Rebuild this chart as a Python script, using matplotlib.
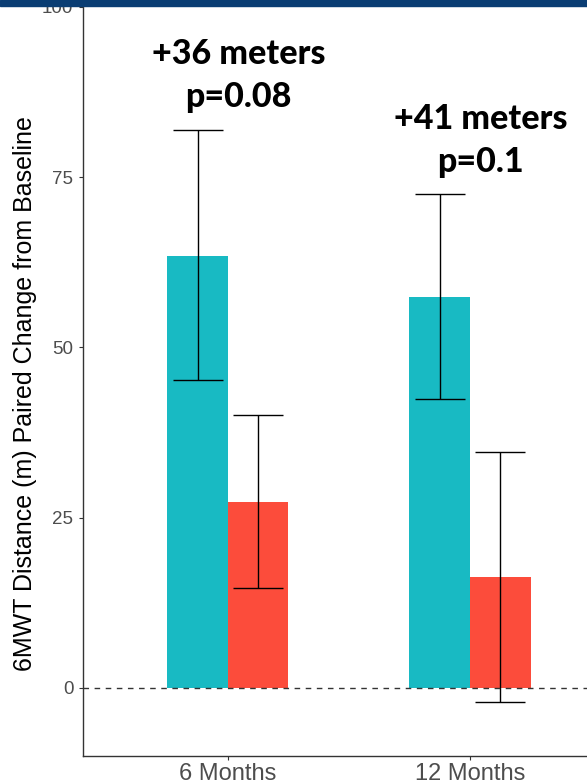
import matplotlib.pyplot as plt
from matplotlib.patches import Rectangle

groups = ["6 Months", "12 Months"]
treat_mean = [63.4, 57.4]
treat_lo = [45.2, 42.4]
treat_hi = [81.9, 72.5]
ctrl_mean = [27.3, 16.3]
ctrl_lo = [14.7, -2.1]
ctrl_hi = [40.1, 34.6]
notes = [("+36 meters", "p=0.08"), ("+41 meters", "p=0.1")]
note_y = [(91.6, 85.3), (82.0, 75.7)]
yticks = [0, 25, 50, 75, 100]

fig = plt.figure(figsize=(5.87, 7.83), dpi=100)
ax = fig.add_axes([82.5/587, 1 - 756/783, 1 - 82.5/587, 756/783])

x = [1, 2]
w = 0.25
tx = [i - w/2 for i in x]
cx = [i + w/2 for i in x]
ax.bar(tx, treat_mean, width=w, color="#18BAC3", zorder=2)
ax.bar(cx, ctrl_mean, width=w, color="#FC4C3B", zorder=2)

for xs, m, lo, hi in [(tx, treat_mean, treat_lo, treat_hi), (cx, ctrl_mean, ctrl_lo, ctrl_hi)]:
    err = [[mm - l for mm, l in zip(m, lo)], [h - mm for mm, h in zip(m, hi)]]
    ax.errorbar(xs, m, yerr=err, fmt="none", ecolor="black", elinewidth=1,
                capsize=18, capthick=1, zorder=3)

ax.axhline(0, color="#333333", linestyle=(0, (4, 4)), linewidth=1, zorder=4)

for i, (a, b) in enumerate(notes):
    ax.text(x[i] + 0.045, note_y[i][0], a, ha="center", va="baseline",
            fontsize=24.5, fontweight="black", family="Lato", zorder=5)
    ax.text(x[i] + 0.045, note_y[i][1], b, ha="center", va="baseline",
            fontsize=24.5, fontweight="black", family="Lato", zorder=5)

ax.set_xlim(0.4, 2.483)
ax.set_ylim(-10, 101)
ax.set_xticks(x)
ax.set_xticklabels(groups, fontsize=17, color="#4D4D4D", family="Liberation Sans")
ax.set_yticks(yticks)
ax.set_yticklabels([str(t) for t in yticks], fontsize=13.5, color="#4D4D4D",
                   family="Liberation Sans")
ax.tick_params(length=3, color="#333333", width=0.8)
ax.tick_params(axis="x", pad=2)
ax.set_ylabel("6MWT Distance (m) Paired Change from Baseline", fontsize=18,
              family="Liberation Sans", color="black")
ax.yaxis.set_label_coords(-0.09, 0.479)
ax.spines["top"].set_visible(False)
ax.spines["right"].set_visible(False)
for s in ["left", "bottom"]:
    ax.spines[s].set_color("#333333")
    ax.spines[s].set_linewidth(1)

fig.patches.append(Rectangle((0, 1 - 6/783), 1, 6/783, transform=fig.transFigure,
                             color="#0A3D73", zorder=10))

fig.savefig("out.png", dpi=100)
